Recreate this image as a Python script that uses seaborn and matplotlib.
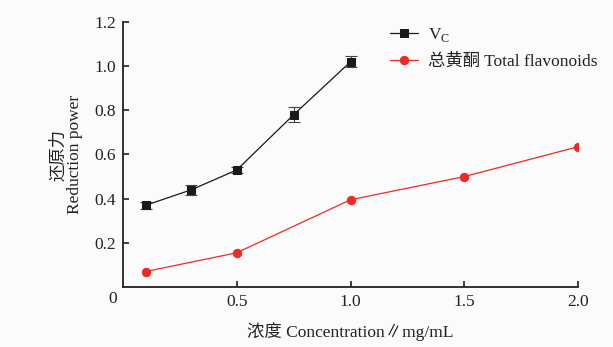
import matplotlib
matplotlib.use("Agg")
import matplotlib.pyplot as plt
import seaborn as sns
import pandas as pd

# Data
vc_x = [0.1, 0.3, 0.5, 0.75, 1.0]
vc_y = [0.37, 0.44, 0.53, 0.78, 1.02]
vc_err = [0.015, 0.022, 0.013, 0.035, 0.025]
fl_x = [0.1, 0.5, 1.0, 1.5, 2.0]
fl_y = [0.07, 0.155, 0.395, 0.50, 0.635]
fl_err = [0.005, 0.006, 0.006, 0.006, 0.006]
x_ticks = [0.5, 1.0, 1.5, 2.0]
x_ticklabels = ["0.5", "1.0", "1.5", "2.0"]
y_ticks = [0.2, 0.4, 0.6, 0.8, 1.0, 1.2]
y_ticklabels = ["0.2", "0.4", "0.6", "0.8", "1.0", "1.2"]
label_vc = "V$_{\\mathregular{C}}$"
label_fl = "总黄酮 Total flavonoids"

sns.set_theme(style="ticks")
plt.rcParams['font.family'] = ['Liberation Serif', 'Noto Sans CJK SC']
plt.rcParams['mathtext.fontset'] = 'custom'
plt.rcParams['mathtext.rm'] = 'Liberation Serif'

FS = 12.5
fig = plt.figure(figsize=(6.13, 3.47), dpi=100)
fig.patch.set_facecolor('#fbfbfb')
ax = fig.add_axes([0.2007, 0.173, 0.7423, 0.7636])
ax.set_facecolor('#fbfbfb')

df_vc = pd.DataFrame({"x": vc_x, "y": vc_y})
df_fl = pd.DataFrame({"x": fl_x, "y": fl_y})

ax.errorbar(vc_x, vc_y, yerr=vc_err, fmt='none', ecolor='#444444', elinewidth=0.8, capsize=4, capthick=0.8, zorder=2)
ax.errorbar(fl_x, fl_y, yerr=fl_err, fmt='none', ecolor='#e8231f', elinewidth=0.6, capsize=2, capthick=0.6, zorder=2)
sns.lineplot(data=df_vc, x="x", y="y", ax=ax, color='#1a1a1a', marker='s', markersize=5.2,
             markeredgecolor='#1a1a1a', linewidth=0.9, label=label_vc, zorder=3)
sns.lineplot(data=df_fl, x="x", y="y", ax=ax, color='#ee2a24', marker='o', markersize=6,
             markeredgecolor='#ee2a24', linewidth=0.9, label=label_fl, zorder=3)

ax.set_xlim(0, 2.0)
ax.set_ylim(0, 1.2)
ax.set_xticks(x_ticks)
ax.set_xticklabels(x_ticklabels)
ax.set_yticks(y_ticks)
ax.set_yticklabels(y_ticklabels)
ax.tick_params(direction='in', length=4, width=1.2, labelsize=FS, colors='#222222', pad=5)
for s in ['top', 'right']:
    ax.spines[s].set_visible(False)
for s in ['left', 'bottom']:
    ax.spines[s].set_linewidth(1.3)
    ax.spines[s].set_color('#222222')

ax.text(-0.013, -0.015, "0", transform=ax.transAxes, ha='right', va='top', fontsize=FS, color='#222222')

ax.set_xlabel("浓度 Concentration∥mg/mL", fontsize=FS, color='#222222', labelpad=9)
ax.set_ylabel("还原力\nReduction power", fontsize=FS, color='#222222', labelpad=8, linespacing=1.0)

leg = ax.legend(loc='upper right', bbox_to_anchor=(1.066, 1.025), frameon=False, fontsize=FS,
                handlelength=1.6, labelspacing=0.55, handletextpad=0.6, borderpad=0.1)
for t in leg.get_texts():
    t.set_color('#222222')

fig.savefig("out.png", dpi=100, facecolor=fig.get_facecolor())
